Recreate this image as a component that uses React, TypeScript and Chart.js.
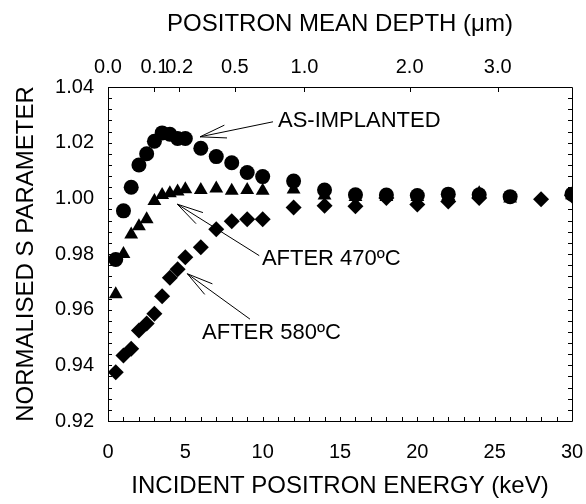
import React, { useEffect, useRef } from "react";
import { Chart, registerables } from "chart.js";

Chart.register(...registerables);

// ---- data ----
const energies = [0.5, 1, 1.5, 2, 2.5, 3, 3.5, 4, 4.5, 5, 6, 7, 8, 9, 10, 12, 14, 16, 18, 20, 22, 24, 26, 28, 30];
const asImplanted = [0.978, 0.9955, 1.004, 1.012, 1.016, 1.0205, 1.0235, 1.023, 1.0215, 1.0215, 1.018, 1.015, 1.0128, 1.0093, 1.0078, 1.0062, 1.003, 1.0013, 1.0012, 1.001, 1.0015, 1.0013, 1.0006, null, 1.0015];
const after470 = [0.9655, 0.98, 0.987, 0.99, 0.9925, 0.999, 1.0012, 1.0018, 1.0025, 1.0033, 1.003, 1.0035, 1.0027, 1.003, 1.0027, 1.0032, 1.001, 1.0005, 1.0005, 1.0005, 1.0008, 1.0018, 0.9999, null, 1.0011];
const after580 = [0.9375, 0.9435, 0.946, 0.9525, 0.955, 0.9585, 0.9648, 0.9715, 0.9745, 0.9788, 0.9824, 0.9889, 0.9918, 0.9925, 0.9925, 0.9967, 0.9973, 0.9972, 1.0001, 0.9978, 0.9989, 1.0001, null, 0.9997, 1.001];

const depthLabels = ["0.0", "0.1", "0.2", "0.5", "1.0", "2.0", "3.0"];
const depthTickEnergies = [0, 3.0, 4.6, 8.2, 12.7, 19.5, 25.2];

const xMin = 0, xMax = 30, xStep = 5, xMinorStep = 1;
const yMin = 0.92, yMax = 1.04, yStep = 0.02, yMinorStep = 0.004;

const annotations = [
  { text: "AS-IMPLANTED", textAt: [10.99, 1.0279], from: [10.67, 1.0275], tip: [5.95, 1.0221] },
  { text: "AFTER 470\u00baC", textAt: [9.95, 0.9782], from: [9.78, 0.9794], tip: [4.48, 0.9979] },
  { text: "AFTER 580\u00baC", textAt: [6.08, 0.9515], from: [9.18, 0.9566], tip: [5.13, 0.9729] },
];

const FONT = "'Liberation Sans', Arial, Helvetica, sans-serif";

const decorPlugin = {
  id: "decor",
  beforeDatasetsDraw(chart: any) {
    const { ctx, chartArea } = chart;
    const { left, right, top, bottom } = chartArea;
    const xs = chart.scales.x, x2 = chart.scales.x2, ys = chart.scales.y;
    ctx.save();
    ctx.strokeStyle = "#000";
    ctx.lineWidth = 1;
    ctx.beginPath();
    ctx.rect(Math.round(left) + 0.5, Math.round(top) + 0.5, Math.round(right - left), Math.round(bottom - top));
    ctx.stroke();
    ctx.beginPath();
    for (let e = xMin; e <= xMax + 1e-9; e += xMinorStep) {
      const px = Math.round(xs.getPixelForValue(e)) + 0.5;
      ctx.moveTo(px, bottom);
      ctx.lineTo(px, bottom - 4);
    }
    for (const v of depthTickEnergies) {
      const px = Math.round(x2.getPixelForValue(v)) + 0.5;
      ctx.moveTo(px, top);
      ctx.lineTo(px, top + 5);
    }
    const n = Math.round((yMax - yMin) / yMinorStep);
    for (let k = 0; k <= n; k++) {
      const py = Math.round(ys.getPixelForValue(yMin + k * yMinorStep)) + 0.5;
      ctx.moveTo(left, py);
      ctx.lineTo(left + 4, py);
      ctx.moveTo(right, py);
      ctx.lineTo(right - 4, py);
    }
    ctx.stroke();
    ctx.restore();
  },
  afterDatasetsDraw(chart: any) {
    const { ctx } = chart;
    const xs = chart.scales.x, ys = chart.scales.y;
    ctx.save();
    ctx.strokeStyle = "#000";
    ctx.fillStyle = "#000";
    ctx.lineWidth = 1;
    ctx.font = `22px ${FONT}`;
    ctx.textBaseline = "middle";
    ctx.textAlign = "left";
    for (const a of annotations) {
      const fx = xs.getPixelForValue(a.from[0]), fy = ys.getPixelForValue(a.from[1]);
      const tx = xs.getPixelForValue(a.tip[0]), ty = ys.getPixelForValue(a.tip[1]);
      const ang = Math.atan2(fy - ty, fx - tx);
      const len = 27, half = (14 * Math.PI) / 180;
      ctx.beginPath();
      ctx.moveTo(fx, fy);
      ctx.lineTo(tx, ty);
      ctx.moveTo(tx + len * Math.cos(ang - half), ty + len * Math.sin(ang - half));
      ctx.lineTo(tx, ty);
      ctx.lineTo(tx + len * Math.cos(ang + half), ty + len * Math.sin(ang + half));
      ctx.stroke();
      ctx.fillText(a.text, xs.getPixelForValue(a.textAt[0]), ys.getPixelForValue(a.textAt[1]));
    }
    ctx.restore();
  },
};

export default function App() {
  const ref = useRef<HTMLCanvasElement | null>(null);
  useEffect(() => {
    document.body.style.margin = "0";
    const canvas = ref.current;
    if (!canvas) return;
    const tickFont = { family: FONT, size: 20 };
    const titleFont = { family: FONT, size: 24 };
    const mk = (vals: (number | null)[]) =>
      energies.map((e, i) => ({ x: e, y: vals[i] })).filter((p) => p.y !== null);
    const chart = new Chart(canvas, {
      type: "scatter",
      data: {
        datasets: [
          { label: "AS-IMPLANTED", data: mk(asImplanted), pointStyle: "circle", pointRadius: 7.5, backgroundColor: "#000", borderColor: "#000", borderWidth: 0 },
          { label: "AFTER 470ºC", data: mk(after470), pointStyle: "triangle", pointRadius: 8, backgroundColor: "#000", borderColor: "#000", borderWidth: 0 },
          { label: "AFTER 580ºC", data: mk(after580), pointStyle: "rectRot", pointRadius: 8, backgroundColor: "#000", borderColor: "#000", borderWidth: 0 },
        ],
      },
      options: {
        responsive: false,
        animation: false,
        devicePixelRatio: 1,
        events: [],
        layout: { padding: { left: 0, right: 14, top: 0, bottom: 0 } },
        plugins: { legend: { display: false }, tooltip: { enabled: false } },
        scales: {
          x: {
            type: "linear",
            position: "bottom",
            min: xMin,
            max: xMax,
            ticks: { stepSize: xStep, font: tickFont, color: "#000", padding: 0, maxRotation: 0, autoSkip: false },
            grid: { display: false, drawTicks: true, tickLength: 19 },
            border: { display: false },
            title: { display: true, text: "INCIDENT POSITRON ENERGY (keV)", font: titleFont, color: "#000", padding: { top: 0, bottom: 3 } },
            afterFit: (s: any) => { s.height = 83; },
          },
          x2: {
            type: "linear",
            position: "top",
            min: xMin,
            max: xMax,
            afterBuildTicks: (s: any) => { s.ticks = depthTickEnergies.map((v) => ({ value: v })); },
            ticks: { font: tickFont, color: "#000", padding: 0, maxRotation: 0, autoSkip: false, callback: (_v: any, i: number) => depthLabels[i] },
            grid: { display: false, drawTicks: true, tickLength: 8 },
            border: { display: false },
            title: { display: true, text: "POSITRON MEAN DEPTH (\u03bcm)", font: titleFont, color: "#000", padding: { top: 10, bottom: 0 } },
            afterFit: (s: any) => { s.height = 87; },
          },
          y: {
            type: "linear",
            position: "left",
            min: yMin,
            max: yMax,
            ticks: { stepSize: yStep, font: tickFont, color: "#000", padding: 14, callback: (v: any) => Number(v).toFixed(2) },
            grid: { display: false, drawTicks: false },
            border: { display: false },
            title: { display: true, text: "NORMALISED S PARAMETER", font: titleFont, color: "#000", padding: { top: 12, bottom: 0 } },
            afterFit: (s: any) => { s.width = 108; },
          },
        },
      },
      plugins: [decorPlugin],
    } as any);
    return () => chart.destroy();
  }, []);
  return (
    <div style={{ width: 586, height: 504 }}>
      <canvas ref={ref} width={586} height={504} style={{ display: "block" }} />
    </div>
  );
}
